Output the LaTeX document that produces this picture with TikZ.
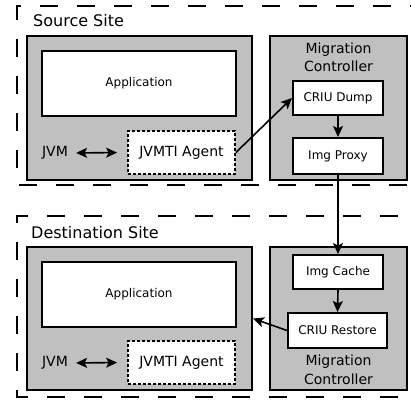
\documentclass[tikz,border=0pt]{standalone}
\usepackage{fontspec}
\setmainfont{DejaVu Sans}
\usetikzlibrary{arrows.meta}
\definecolor{boxgrey}{RGB}{192,192,192}
\tikzset{
  site/.style={line width=1.5pt, dash pattern=on 18pt off 19pt},
  greybox/.style={draw, line width=2pt, fill=boxgrey, inner sep=0pt},
  whitebox/.style={draw, line width=2pt, fill=white, inner sep=0pt, font=\fontsize{12}{14}\selectfont},
  agentbox/.style={draw, line width=1.8pt, dash pattern=on 3pt off 2pt, fill=white, inner sep=0pt, font=\fontsize{14}{16}\selectfont},
  sitelabel/.style={anchor=base west, inner sep=0pt, font=\fontsize{16}{18}\selectfont},
  mclabel/.style={align=center, inner sep=0pt, font=\fontsize{14}{18.5}\selectfont},
  plain/.style={inner sep=0pt, font=\fontsize{14}{16}\selectfont},
  tip/.tip={Stealth[length=11pt,width=10pt,inset=2.5pt]},
  arr/.style={line width=1.6pt, -tip},
  arrboth/.style={line width=1.6pt, tip-tip},
}
\begin{document}
\begin{tikzpicture}[x=1pt,y=-1pt]
\useasboundingbox (0,0) rectangle (411,401);

% --- source site ---
\draw[site, dash phase=25pt] (440,6) -- (17,6) -- (17,185) -- (440,185);
\node[sitelabel] (srclabel) at (33,27) {Source Site};

\node[greybox, minimum width=225pt, minimum height=144pt] (jvmS) at (139.5,108) {};
\node[greybox, minimum width=137pt, minimum height=144pt] (mcS) at (338.5,108) {};
\node[whitebox, minimum width=194pt, minimum height=65pt] (appS) at (139,83.5) {Application};
\node[agentbox, minimum width=107pt, minimum height=43pt] (agentS) at (181.5,152.5) {JVMTI Agent};
\node[plain] (jvmtS) at (55,153) {JVM};
\node[mclabel] (mclS) at (338.5,57.5) {Migration\\Controller};
\node[whitebox, minimum width=90pt, minimum height=34pt] (dump) at (338,98) {CRIU Dump};
\node[whitebox, minimum width=90pt, minimum height=36pt] (proxy) at (338,156) {Img Proxy};

% --- destination site ---
\draw[site, dash phase=32pt] (440,216) -- (17,216) -- (17,397) -- (440,397);
\node[sitelabel] (dstlabel) at (31,238) {Destination Site};

\node[greybox, minimum width=225pt, minimum height=143pt] (jvmD) at (139.5,318.5) {};
\node[greybox, minimum width=137pt, minimum height=143pt] (mcD) at (338.5,318.5) {};
\node[whitebox, minimum width=194pt, minimum height=65pt] (appD) at (139,294.5) {Application};
\node[agentbox, minimum width=107pt, minimum height=43pt] (agentD) at (181.5,362.5) {JVMTI Agent};
\node[plain] (jvmtD) at (55,363) {JVM};
\node[mclabel] (mclD) at (338.5,370) {Migration\\Controller};
\node[whitebox, minimum width=90pt, minimum height=34pt] (cache) at (338,272) {Img Cache};
\node[whitebox, minimum width=99pt, minimum height=35pt] (restore) at (337.5,330.5) {CRIU Restore};

% --- connectors ---
\draw[arrboth, shorten <=8pt, shorten >=10pt] (jvmtS.east) -- (agentS.west);
\draw[arrboth, shorten <=8pt, shorten >=10pt] (jvmtD.east) -- (agentD.west);
\draw[arr] (agentS.east) -- (dump.west);
\draw[arr] (dump.south) -- (proxy.north);
\draw[arr] (proxy.south) -- (cache.north);
\draw[arr] (cache.south) -- (restore.north);
\draw[arr] (restore.west) -- (jvmD.east);
\end{tikzpicture}
\end{document}
